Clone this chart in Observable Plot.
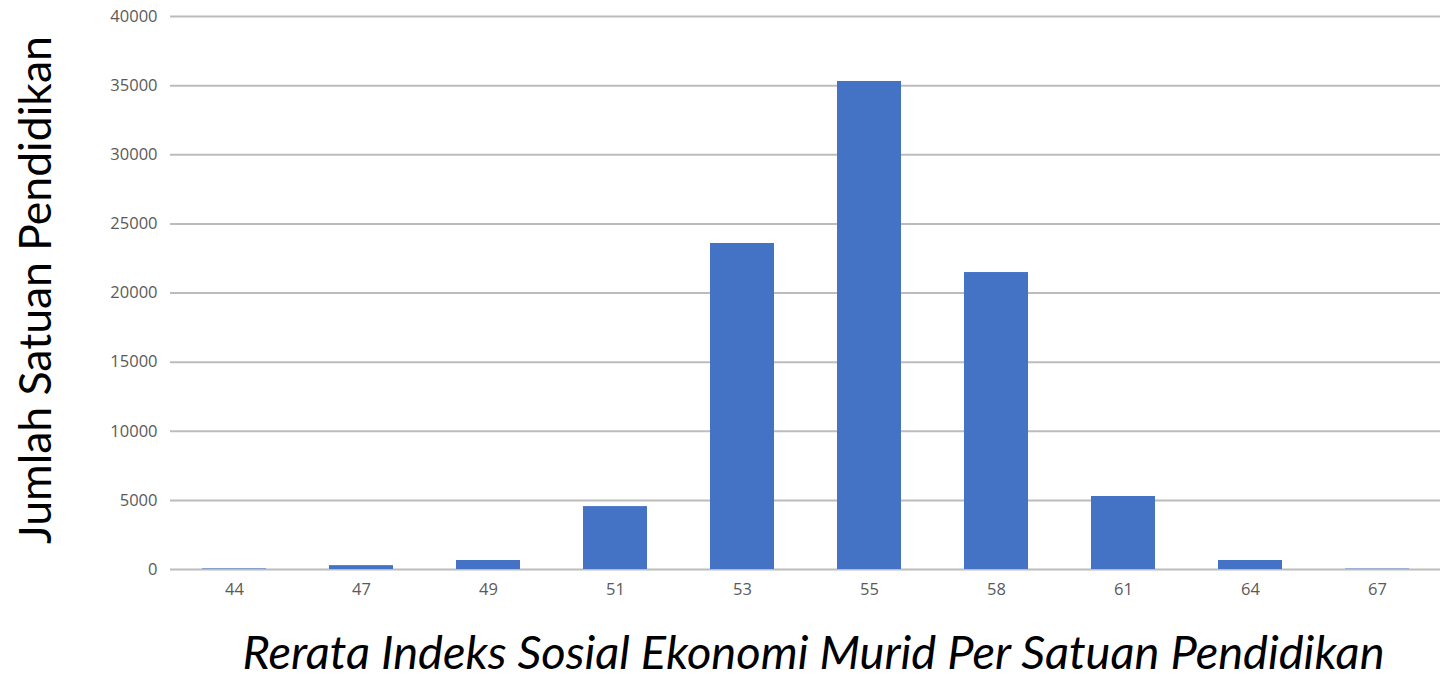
<!DOCTYPE html>
<html><head><meta charset="utf-8">
<script src="https://cdn.jsdelivr.net/npm/d3@7"></script>
<script src="https://cdn.jsdelivr.net/npm/@observablehq/plot@0.6"></script>
<style>body{margin:0;background:#fff;} svg{display:block;}</style>
</head><body><div id="chart"></div>
<script>
const categories = ["44","47","49","51","53","55","58","61","64","67"];
const counts = [40, 280, 650, 4550, 23580, 35300, 21480, 5280, 650, 30];
const yTicks = [0,5000,10000,15000,20000,25000,30000,35000,40000];
const yTitle = "Jumlah Satuan Pendidikan";
const xTitle = "Rerata Indeks Sosial Ekonomi Murid Per Satuan Pendidikan";

const data = categories.map((c,i)=>({cat:c, n:counts[i]}));
const font = "'Open Sans', 'Liberation Sans', sans-serif";
const titleFont = "Lato, 'Open Sans', sans-serif";

const chart = Plot.plot({
  width: 1448, height: 681,
  marginLeft: 170, marginRight: 8, marginTop: 16, marginBottom: 112,
  style: {fontFamily: font, background: "#fff"},
  x: {domain: categories, paddingInner: 0.5, paddingOuter: 0.245, label: null},
  y: {domain: [0,40000], label: null},
  marks: [
    Plot.gridY(yTicks, {stroke: "#bcbcbc", strokeOpacity: 1, strokeWidth: 2}),
    Plot.barY(data, {x: "cat", y: "n", fill: "#4472C4"}),
    Plot.axisY(yTicks, {tickSize: 0, tickPadding: 13, fontSize: 16.5, color: "#5a5a5a", tickFormat: d => String(d), label: null}),
    Plot.axisX({tickSize: 0, tickPadding: 14, fontSize: 16.5, color: "#5a5a5a", label: null}),
    Plot.text([yTitle], {frameAnchor: "left", textAnchor: "middle", rotate: -90, dx: -134, dy: -3, fontSize: 44.5, fontFamily: titleFont, fill: "#000"}),
    Plot.text([xTitle], {frameAnchor: "bottom", dx: 8, dy: 99, fontSize: 47, fontStyle: "italic", fontFamily: titleFont, fill: "#000"})
  ]
});
document.getElementById("chart").appendChild(chart);
</script></body></html>
